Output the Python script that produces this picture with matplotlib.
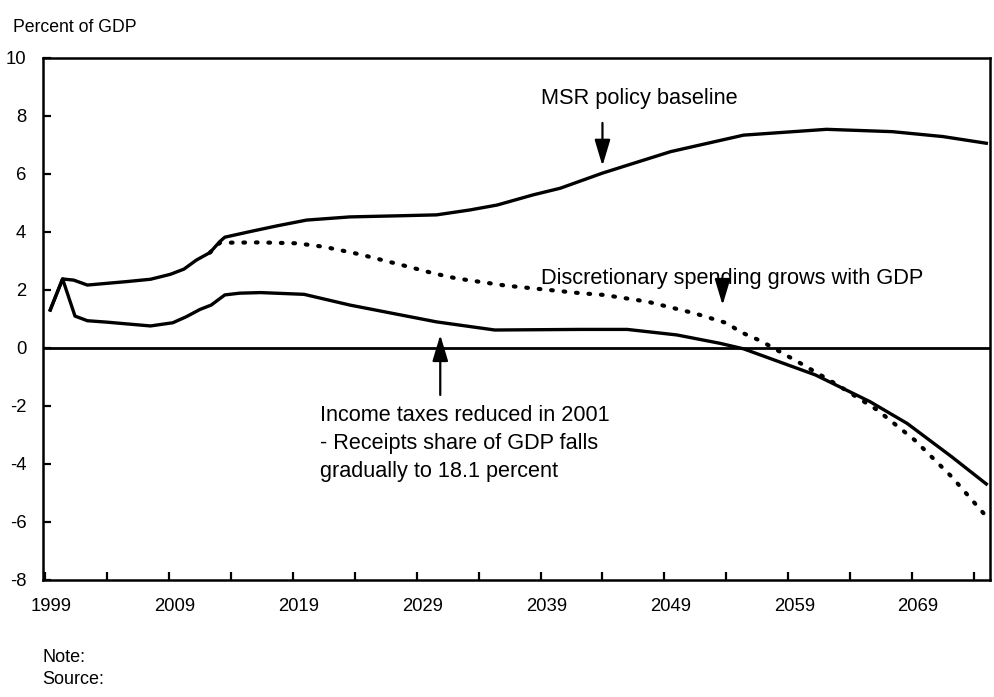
import matplotlib.pyplot as plt
import matplotlib.transforms as mtransforms

plt.rcParams["font.family"] = ["Liberation Sans", "DejaVu Sans"]

# MSR policy baseline (upper solid line)
base_years = [1999.4, 2000.4, 2001.3, 2002.4, 2004.0, 2005.6, 2007.5, 2009.1,
              2010.2, 2011.2, 2012.3, 2013.1, 2013.5, 2015.5, 2017.7, 2020.1,
              2023.6, 2027.7, 2030.6, 2033.3, 2035.5, 2038.4, 2040.6, 2044.0,
              2046.0, 2049.5, 2055.4, 2062.1, 2067.4, 2071.5, 2075.0]
base_vals = [1.31, 2.38, 2.34, 2.17, 2.23, 2.29, 2.37, 2.54,
             2.72, 3.03, 3.29, 3.67, 3.82, 4.01, 4.21, 4.41,
             4.52, 4.56, 4.59, 4.76, 4.93, 5.28, 5.51, 6.03,
             6.30, 6.77, 7.34, 7.54, 7.46, 7.29, 7.06]

# Income taxes reduced in 2001 (lower solid line)
tax_years = [1999.4, 2000.4, 2001.4, 2002.4, 2004.0, 2005.6, 2007.5, 2009.3,
             2010.4, 2011.5, 2012.4, 2013.5, 2014.7, 2016.4, 2019.9, 2023.6,
             2027.7, 2030.6, 2035.3, 2042.2, 2046.0, 2050.0, 2053.5, 2055.4,
             2061.2, 2065.6, 2068.6, 2072.2, 2075.0]
tax_vals = [1.31, 2.38, 1.10, 0.94, 0.89, 0.83, 0.76, 0.87,
            1.08, 1.33, 1.48, 1.83, 1.89, 1.91, 1.85, 1.48,
            1.14, 0.90, 0.62, 0.64, 0.64, 0.45, 0.16, -0.03,
            -0.93, -1.85, -2.60, -3.75, -4.69]

# Discretionary spending grows with GDP (dotted line)
disc_years = [2012.3, 2013.1, 2016.4, 2019.3, 2021.5, 2024.3, 2027.8, 2030.4,
              2032.2, 2036.2, 2039.7, 2042.2, 2044.1, 2047.6, 2051.4, 2054.1,
              2055.1, 2056.8, 2060.0, 2063.0, 2066.2, 2069.2, 2072.2, 2074.9]
disc_vals = [3.29, 3.63, 3.64, 3.61, 3.49, 3.24, 2.86, 2.57,
             2.40, 2.15, 2.00, 1.89, 1.83, 1.60, 1.20, 0.85,
             0.56, 0.24, -0.53, -1.28, -2.14, -3.17, -4.44, -5.76]

y_ticks = list(range(-8, 11, 2))
x_label_years = list(range(1999, 2076, 10))
x_minor_years = list(range(2004, 2076, 10))

fig = plt.figure(figsize=(9.94, 6.97), dpi=100)
ax = fig.add_axes([0.0433, 0.1679, 0.9527, 0.7489])

ax.plot(base_years, base_vals, color="black", lw=2.4, solid_joinstyle="round")
ax.plot(tax_years, tax_vals, color="black", lw=2.4, solid_joinstyle="round")
ax.plot(disc_years, disc_vals, color="black", lw=3.0,
        linestyle=(0, (0.4, 2.6)), dash_capstyle="round")
ax.axhline(0, color="black", lw=2)

ax.set_xlim(1998.82, 2075.3)
ax.set_ylim(-8, 10)

ax.set_yticks(y_ticks)
ax.set_yticklabels([str(t) for t in y_ticks])
ax.set_xticks(x_label_years)
ax.set_xticklabels([str(y) for y in x_label_years])
ax.set_xticks(x_minor_years, minor=True)
ax.tick_params(axis="both", which="both", direction="in", length=6, width=1.6,
               labelsize=13.3, color="black")
ax.tick_params(axis="x", pad=13)
ax.tick_params(axis="y", pad=12)

offset = mtransforms.ScaledTranslation(0.06, 0, fig.dpi_scale_trans)
for lab in ax.get_xticklabels():
    lab.set_transform(lab.get_transform() + offset)

for sp in ax.spines.values():
    sp.set_linewidth(1.8)

arrow = dict(arrowstyle="-|>,head_length=0.8,head_width=0.24", color="black",
             lw=1.6, mutation_scale=20, shrinkA=0, shrinkB=0)

ax.text(2039.0, 8.59, "MSR policy baseline", fontsize=15.7, va="center", ha="left")
ax.annotate("", xy=(2044.0, 6.28), xytext=(2044.0, 7.76), arrowprops=arrow)

ax.text(2039.0, 2.41, "Discretionary spending grows with GDP", fontsize=15.7,
        va="center", ha="left")
ax.annotate("", xy=(2053.7, 1.48), xytext=(2053.7, 2.10), arrowprops=arrow)

ax.text(2021.2, -1.95,
        "Income taxes reduced in 2001\n- Receipts share of GDP falls\ngradually to 18.1 percent",
        fontsize=15.6, va="top", ha="left", linespacing=1.45)
ax.annotate("", xy=(2030.9, 0.45), xytext=(2030.9, -1.62), arrowprops=arrow)

fig.text(13 / 994, 1 - 27 / 697, "Percent of GDP", fontsize=12.7, va="center", ha="left")
fig.text(42 / 994, 1 - 657 / 697, "Note:", fontsize=13, va="center", ha="left")
fig.text(42 / 994, 1 - 679 / 697, "Source:", fontsize=13, va="center", ha="left")

fig.savefig("out.png", dpi=100)
